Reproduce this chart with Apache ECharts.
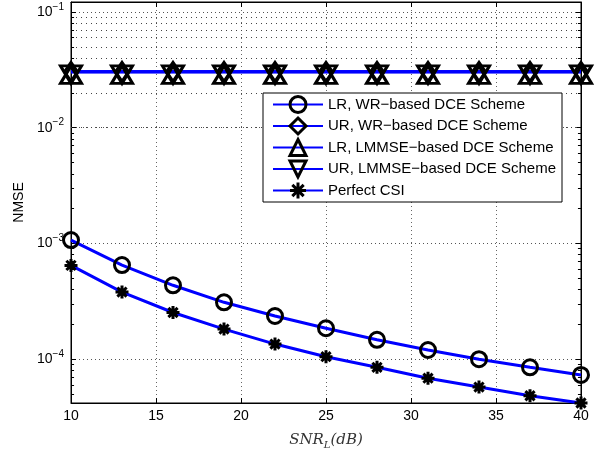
<!DOCTYPE html>
<html>
<head>
    <meta charset="utf-8">
    <title>NMSE vs SNR</title>
    <script src="https://cdn.jsdelivr.net/npm/echarts@6/dist/echarts.min.js"></script>
</head>
<body style="margin:0">
<div id="main" style="width: 605px;height:455px;"></div>
<script type="text/javascript">
    // data
    const snr = [10, 13, 16, 19, 22, 25, 28, 31, 34, 37, 40];
    const lrWR = [1.07e-3, 6.5e-4, 4.35e-4, 3.1e-4, 2.36e-4, 1.85e-4, 1.47e-4, 1.2e-4, 1.0e-4, 8.5e-5, 7.3e-5];
    const urWR = [0.0304, 0.0304, 0.0304, 0.0304, 0.0304, 0.0304, 0.0304, 0.0304, 0.0304, 0.0304, 0.0304];
    const lrLMMSE = [0.0304, 0.0304, 0.0304, 0.0304, 0.0304, 0.0304, 0.0304, 0.0304, 0.0304, 0.0304, 0.0304];
    const urLMMSE = [0.0304, 0.0304, 0.0304, 0.0304, 0.0304, 0.0304, 0.0304, 0.0304, 0.0304, 0.0304, 0.0304];
    const perfectCSI = [6.46e-4, 3.8e-4, 2.53e-4, 1.82e-4, 1.35e-4, 1.05e-4, 8.5e-5, 6.85e-5, 5.74e-5, 4.83e-5, 4.18e-5];
    const names = ['LR, WR\u2212based DCE Scheme', 'UR, WR\u2212based DCE Scheme',
        'LR, LMMSE\u2212based DCE Scheme', 'UR, LMMSE\u2212based DCE Scheme', 'Perfect CSI'];
    const yMin = 4.18e-5, yMax = 0.122;
    // minor log grid positions
    const minorY = [];
    [1e-5, 1e-4, 1e-3, 1e-2].forEach(function (d) {
        for (let k = 2; k <= 9; k++) {
            const v = k * d;
            if (v > yMin && v < yMax) minorY.push(v);
        }
    });

    const myChart = echarts.init(document.getElementById('main'));
    const font = 'Liberation Sans, Arial, sans-serif';
    const star = 'path://M0,-10L0,10M-10,0L10,0M-7.07,-7.07L7.07,7.07M-7.07,7.07L7.07,-7.07';

    function pts(arr) {
        return snr.map(function (x, i) { return [x, arr[i]]; });
    }
    function mk(name, arr, symbol, size, rotate, offset) {
        return {
            name: name, type: 'line', data: pts(arr),
            symbol: symbol, symbolSize: size, symbolRotate: rotate || 0,
            symbolOffset: offset || [0, 0], showAllSymbol: true,
            lineStyle: {color: '#0000ff', width: 3},
            itemStyle: {color: 'rgba(0,0,0,0)', borderColor: '#000', borderWidth: 3},
            emphasis: {disabled: true}
        };
    }

    // minor grid lines and minor ticks (left/right) through markLine
    const markData = [];
    minorY.forEach(function (v) {
        markData.push({yAxis: v});
        markData.push([{coord: [10, v], lineStyle: {type: 'solid', color: '#000', width: 1}}, {coord: [10.18, v]}]);
        markData.push([{coord: [39.82, v], lineStyle: {type: 'solid', color: '#000', width: 1}}, {coord: [40, v]}]);
    });

    const series = [
        mk(names[0], lrWR, 'circle', 15),
        mk(names[1], urWR, 'diamond', [13, 19]),
        mk(names[2], lrLMMSE, 'triangle', [21, 17.5], 0, [0, 2.9]),
        mk(names[3], urLMMSE, 'triangle', [21, 17.5], 180, [0, 2.9]),
        mk(names[4], perfectCSI, star, 13)
    ];
    series[0].markLine = {
        silent: true, symbol: 'none', label: {show: false},
        lineStyle: {color: '#444', type: [1, 4], width: 1},
        data: markData, z: 1
    };

    const yLabel = function (value) {
        const e = Math.round(Math.log10(value));
        return '{b|10}{s|\u2212' + (-e) + '}';
    };

    const option = {
        animation: false,
        grid: {left: 71, top: 2, right: 24, bottom: 51, show: true, borderColor: '#000', borderWidth: 1},
        legend: {
            data: names, orient: 'vertical', left: 263, top: 93,
            backgroundColor: '#fff', borderColor: '#000', borderWidth: 1,
            padding: [2, 6, 2, 9], itemGap: 2.5, itemWidth: 50, itemHeight: 20,
            textStyle: {fontFamily: font, fontSize: 15, color: '#000'},
            itemStyle: {borderWidth: 3},
            selectedMode: false
        },
        xAxis: [{
            type: 'value', min: 10, max: 40, interval: 5,
            name: '{i|SNR}{sub|L}{i|(dB)}', nameLocation: 'middle', nameGap: 28,
            nameTextStyle: {
                rich: {
                    i: {fontFamily: 'DejaVu Serif, serif', fontStyle: 'italic', fontSize: 15, color: '#333'},
                    sub: {fontFamily: 'DejaVu Serif, serif', fontStyle: 'italic', fontSize: 10, color: '#333', padding: [9, 0, 0, 0]}
                }
            },
            axisLine: {lineStyle: {color: '#000'}},
            axisTick: {inside: true, length: 5, lineStyle: {color: '#000'}},
            axisLabel: {fontFamily: font, fontSize: 14, color: '#000', margin: 6},
            splitLine: {show: true, lineStyle: {color: '#666', type: [1, 3]}}
        }, {
            type: 'value', min: 10, max: 40, interval: 5, position: 'top',
            axisLine: {lineStyle: {color: '#000'}},
            axisTick: {inside: true, length: 5, lineStyle: {color: '#000'}},
            axisLabel: {show: false}, splitLine: {show: false}
        }],
        yAxis: [{
            type: 'log', logBase: 10, min: yMin, max: yMax,
            name: 'NMSE', nameLocation: 'middle', nameGap: 39,
            nameTextStyle: {fontFamily: font, fontSize: 14, color: '#000'},
            axisLine: {show: true, lineStyle: {color: '#000'}},
            axisTick: {inside: true, length: 5, lineStyle: {color: '#000'}},
            axisLabel: {
                formatter: yLabel, margin: 7, showMinLabel: false, showMaxLabel: false,
                rich: {
                    b: {fontFamily: font, fontSize: 14, color: '#000'},
                    s: {fontFamily: font, fontSize: 10, color: '#000', padding: [0, 0, 10, 0]}
                }
            },
            splitLine: {show: true, lineStyle: {color: '#555', type: [1, 3]}}
        }, {
            type: 'log', logBase: 10, min: yMin, max: yMax, position: 'right',
            axisLine: {show: true, lineStyle: {color: '#000'}},
            axisTick: {inside: true, length: 5, lineStyle: {color: '#000'}},
            axisLabel: {show: false}, splitLine: {show: false}
        }],
        series: series
    };

    myChart.setOption(option);
</script>
</body>
</html>
